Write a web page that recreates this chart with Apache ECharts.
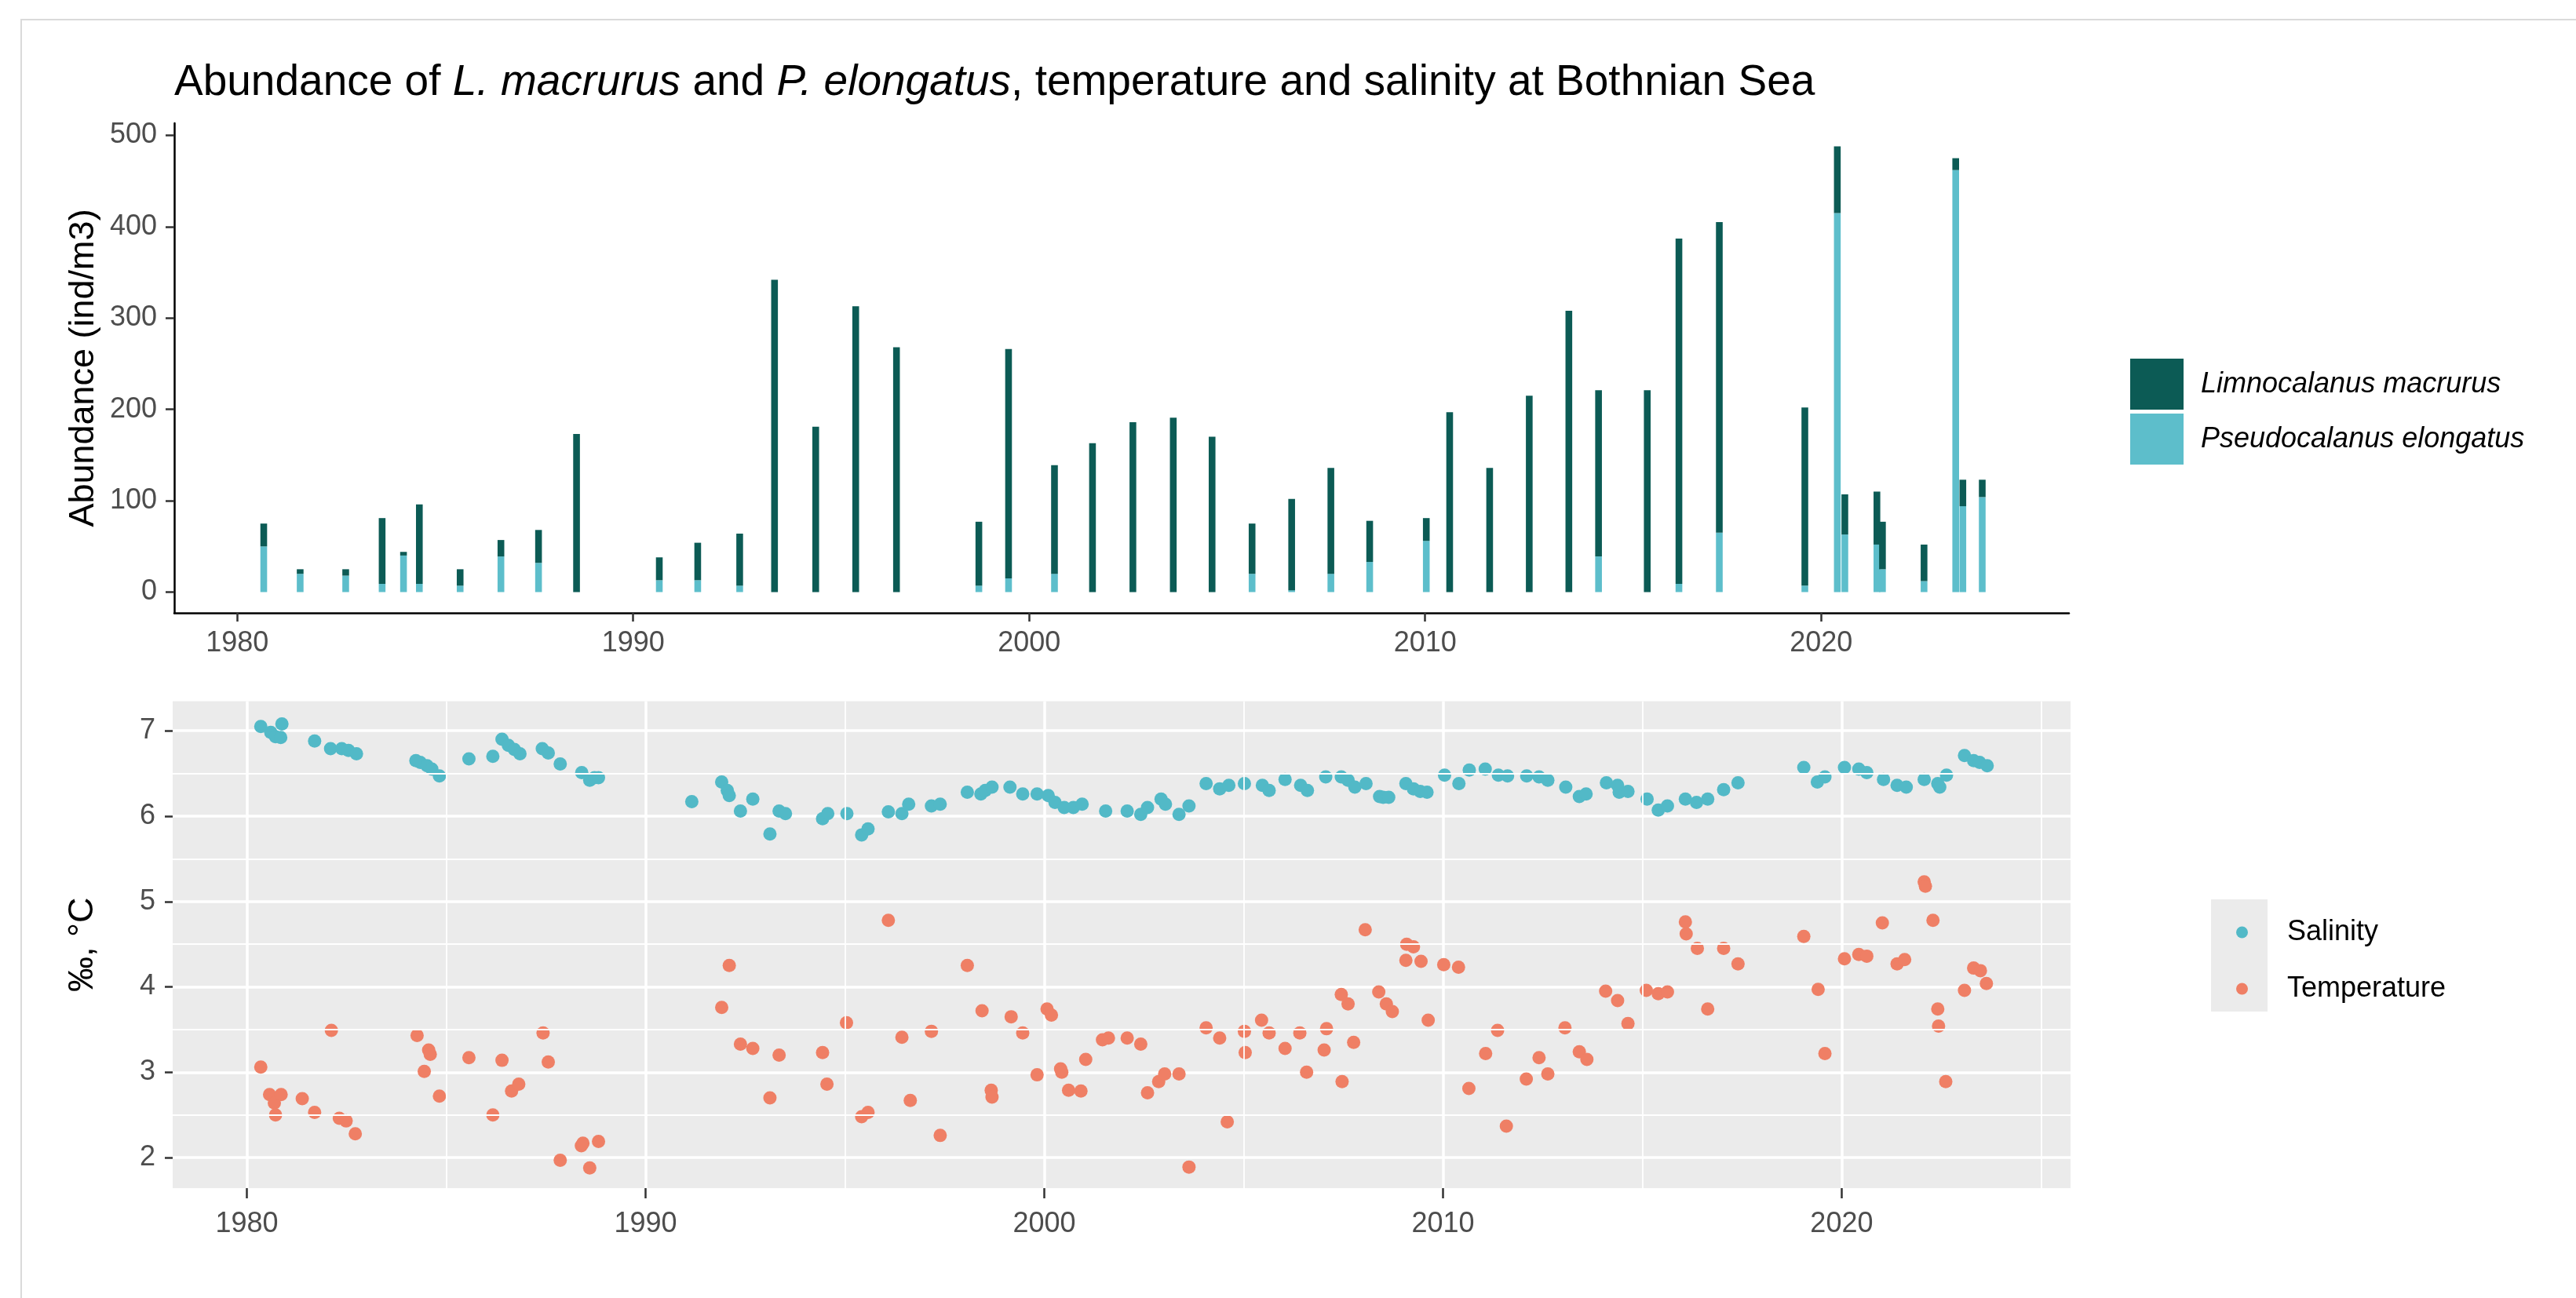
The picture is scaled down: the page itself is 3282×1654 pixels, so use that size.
<!DOCTYPE html>
<html><head><meta charset="utf-8">
<script src="https://cdn.jsdelivr.net/npm/echarts@6/dist/echarts.min.js"></script>
<style>html,body{margin:0;padding:0;background:#fff}#c{width:3282px;height:1654px}</style>
</head><body><div id="c"></div>
<script>
// ---------- DATA ----------
const barYears = [1980.67,1981.59,1982.74,1983.66,1984.2,1984.6,1985.63,1986.66,1987.61,1988.57,
  1990.66,1991.63,1992.69,1993.57,1994.61,1995.62,1996.65,1998.73,1999.48,2000.64,
  2001.6,2002.62,2003.64,2004.62,2005.63,2006.63,2007.62,2008.6,2010.03,2010.62,
  2011.63,2012.63,2013.63,2014.38,2015.61,2016.41,2017.43,2019.59,2020.41,2020.6,
  2021.41,2021.55,2022.6,2023.4,2023.58,2024.07];
const elongatus = [50,20,18,9,40,9,7,39,32,0,
  13,13,7,0,0,0,0,7,15,20,
  0,0,0,0,20,2,20,33,56,0,
  0,0,0,39,0,9,65,7,415,63,
  52,25,12,462,94,104];
const macrurus = [25,5,7,72,4,87,18,18,36,173,
  25,41,57,342,181,313,268,70,251,119,
  163,186,191,170,55,100,116,45,25,197,
  136,215,308,182,221,378,340,195,73,44,
  58,52,40,13,29,19];

const salinityYears = [1980.35,1980.6,1980.72,1980.85,1980.88,1981.7,1982.1,1982.38,1982.55,1982.75,
  1984.24,1984.35,1984.52,1984.64,1984.83,1985.57,1986.17,1986.4,1986.56,1986.71,1986.85,
  1987.41,1987.56,1987.86,1988.4,1988.6,1988.72,1988.82,1991.16,1991.91,1992.05,1992.1,
  1992.38,1992.69,1993.12,1993.35,1993.51,1994.44,1994.57,1995.05,1995.42,1995.58,1996.09,
  1996.43,1996.6,1997.17,1997.39,1998.07,1998.41,1998.52,1998.69,1999.14,1999.46,1999.82,
  2000.1,2000.27,2000.5,2000.73,2000.95,2001.54,2002.08,2002.42,2002.59,2002.93,2003.04,
  2003.38,2003.63,2004.06,2004.4,2004.63,2005.02,2005.47,2005.64,2006.04,2006.43,2006.6,
  2007.06,2007.45,2007.62,2007.79,2008.07,2008.41,2008.5,2008.64,2009.07,2009.26,2009.43,
  2009.6,2010.04,2010.4,2010.66,2011.06,2011.39,2011.62,2012.1,2012.41,2012.63,2013.08,
  2013.42,2013.59,2014.1,2014.38,2014.42,2014.64,2015.12,2015.4,2015.63,2016.08,2016.36,
  2016.64,2017.04,2017.4,2019.05,2019.39,2019.58,2020.07,2020.43,2020.63,2021.05,2021.39,
  2021.62,2022.07,2022.41,2022.46,2022.63,2023.08,2023.31,2023.46,2023.65];
const salinityValues = [7.05,6.98,6.93,6.92,7.08,6.88,6.79,6.79,6.77,6.73,
  6.65,6.63,6.59,6.55,6.47,6.67,6.70,6.90,6.83,6.78,6.73,
  6.79,6.74,6.61,6.51,6.42,6.45,6.45,6.17,6.40,6.30,6.24,
  6.06,6.20,5.79,6.06,6.03,5.97,6.03,6.03,5.78,5.85,6.05,
  6.03,6.14,6.12,6.14,6.28,6.26,6.30,6.34,6.34,6.26,6.26,
  6.24,6.16,6.10,6.10,6.14,6.06,6.06,6.02,6.10,6.20,6.14,
  6.02,6.12,6.38,6.32,6.36,6.38,6.36,6.30,6.43,6.36,6.30,
  6.46,6.46,6.42,6.34,6.38,6.23,6.22,6.22,6.38,6.32,6.29,
  6.28,6.48,6.38,6.54,6.55,6.48,6.47,6.47,6.46,6.42,6.34,
  6.23,6.26,6.39,6.36,6.28,6.29,6.20,6.07,6.12,6.20,6.16,
  6.20,6.31,6.39,6.57,6.40,6.46,6.57,6.55,6.51,6.43,6.36,
  6.34,6.43,6.38,6.34,6.48,6.71,6.65,6.63,6.59];

const temperatureYears = [1980.35,1980.57,1980.69,1980.72,1980.86,1981.39,1981.7,1982.12,1982.32,1982.49,1982.72,
  1984.27,1984.45,1984.56,1984.6,1984.83,1985.57,1986.17,1986.4,1986.64,1986.82,1987.43,1987.56,
  1987.86,1988.39,1988.43,1988.6,1988.82,1991.91,1992.1,1992.38,1992.69,1993.12,1993.35,1994.44,
  1994.55,1995.04,1995.42,1995.58,1996.09,1996.43,1996.64,1997.17,1997.39,1998.07,1998.44,1998.67,
  1998.69,1999.17,1999.46,1999.82,2000.07,2000.18,2000.41,2000.44,2000.61,2000.92,2001.04,2001.46,
  2001.61,2002.08,2002.42,2002.59,2002.87,2003.02,2003.38,2003.63,2004.06,2004.4,2004.59,2005.02,
  2005.04,2005.45,2005.64,2006.04,2006.41,2006.58,2007.02,2007.08,2007.45,2007.47,2007.62,2007.76,
  2008.05,2008.39,2008.58,2008.73,2009.07,2009.09,2009.26,2009.45,2009.63,2010.02,2010.39,2010.65,
  2011.07,2011.37,2011.59,2012.09,2012.41,2012.63,2013.06,2013.42,2013.61,2014.08,2014.38,2014.64,
  2015.1,2015.4,2015.63,2016.08,2016.1,2016.38,2016.64,2017.04,2017.4,2019.05,2019.41,2019.58,
  2020.07,2020.43,2020.63,2021.02,2021.39,2021.58,2022.07,2022.1,2022.29,2022.41,2022.43,2022.61,
  2023.08,2023.31,2023.48,2023.63];
const temperatureValues = [3.06,2.74,2.64,2.50,2.74,2.69,2.53,3.49,2.46,2.43,2.28,
  3.43,3.01,3.26,3.21,2.72,3.17,2.50,3.14,2.78,2.86,3.46,3.12,
  1.97,2.14,2.17,1.88,2.19,3.76,4.25,3.33,3.28,2.70,3.20,3.23,
  2.86,3.58,2.48,2.53,4.78,3.41,2.67,3.48,2.26,4.25,3.72,2.79,
  2.71,3.65,3.46,2.97,3.74,3.67,3.04,3.00,2.79,2.78,3.15,3.38,
  3.40,3.40,3.33,2.76,2.89,2.98,2.98,1.89,3.52,3.40,2.42,3.48,
  3.23,3.61,3.46,3.28,3.46,3.00,3.26,3.51,3.91,2.89,3.80,3.35,
  4.67,3.94,3.80,3.71,4.31,4.50,4.47,4.30,3.61,4.26,4.23,2.81,
  3.22,3.49,2.37,2.92,3.17,2.98,3.52,3.24,3.15,3.95,3.84,3.57,
  3.96,3.92,3.94,4.76,4.62,4.45,3.74,4.45,4.27,4.59,3.97,3.22,
  4.33,4.38,4.36,4.75,4.27,4.32,5.23,5.18,4.78,3.74,3.54,2.89,
  3.96,4.22,4.19,4.04];

const yearTicks = [1980, 1990, 2000, 2010, 2020];
const yearMinor = [1985, 1995, 2005, 2015, 2025];
const abundanceTicks = [0, 100, 200, 300, 400, 500];
const envTicks = [2, 3, 4, 5, 6, 7];
const envMinor = [2.5, 3.5, 4.5, 5.5, 6.5];

// ---------- STYLE ----------
const FONT = 'Liberation Sans, Arial, Helvetica, sans-serif';
const C_DARK = '#0C5B55', C_LIGHT = '#5DBECB';
const C_SAL = '#52B9C7', C_TEMP = '#EF7F65';
const BAR_W = 0.17; // bar width in years

const lightData = barYears.map((x, i) => [x, 0, elongatus[i]]);
const darkData = barYears.map((x, i) => [x, elongatus[i], elongatus[i] + macrurus[i]]);
const salData = salinityYears.map((x, i) => [x, salinityValues[i]]);
const tempData = temperatureYears.map((x, i) => [x, temperatureValues[i]]);

function barRender(params, api) {
  const x = api.value(0), y0 = api.value(1), y1 = api.value(2);
  if (y1 <= y0) return null;
  const p0 = api.coord([x, y0]), p1 = api.coord([x, y1]);
  const w = api.size([BAR_W, 0])[0];
  return { type: 'rect', shape: { x: p0[0] - w / 2, y: p1[1], width: w, height: p0[1] - p1[1] },
           style: { fill: api.visual('color') } };
}

const plain = v => String(v);
const axisLabelStyle = { fontFamily: FONT, fontSize: 36, color: '#4D4D4D', formatter: plain };

const chart = echarts.init(document.getElementById('c'), null, { renderer: 'canvas' });
chart.setOption({
  backgroundColor: '#fff',
  animation: false,
  title: {
    left: 222, top: 76, padding: 0,
    text: '{n|Abundance of }{i|L. macrurus}{n| and }{i|P. elongatus}{n|, temperature and salinity at Bothnian Sea}',
    textStyle: { fontWeight: 'normal', rich: {
      n: { fontFamily: FONT, fontSize: 55, fontWeight: 'normal', color: '#000', lineHeight: 60 },
      i: { fontFamily: FONT, fontSize: 55, fontWeight: 'normal', color: '#000', fontStyle: 'italic', lineHeight: 60 }
    } }
  },
  graphic: [
    { type: 'polyline', silent: true, shape: { points: [[27, 1654], [27, 25], [3282, 25]] },
      style: { stroke: '#DADADA', lineWidth: 2, fill: null } },
    { type: 'rect', silent: true, shape: { x: 2817, y: 1146, width: 72, height: 143 },
      style: { fill: '#EBEBEB' }, z: 0 }
  ],
  grid: [
    { left: 222, top: 157, width: 2414, height: 624, show: false },
    { left: 220, top: 893.5, width: 2418, height: 620.5, show: true, backgroundColor: '#EBEBEB', borderWidth: 0 }
  ],
  xAxis: [
    { type: 'value', gridIndex: 0, min: 1978.41, max: 2026.26,
      axisLine: { show: true, onZero: false, lineStyle: { color: '#000', width: 2.5 } },
      axisTick: { show: true, customValues: yearTicks, length: 11, lineStyle: { color: '#333', width: 2.5 } },
      axisLabel: Object.assign({ customValues: yearTicks, margin: 21 }, axisLabelStyle),
      splitLine: { show: false } },
    { type: 'value', gridIndex: 1, min: 1978.14, max: 2025.74,
      axisLine: { show: false },
      axisTick: { show: true, customValues: yearTicks, length: 13, lineStyle: { color: '#333', width: 2.5 } },
      axisLabel: Object.assign({ customValues: yearTicks, margin: 28 }, axisLabelStyle),
      splitLine: { show: true, lineStyle: { color: '#fff', width: 3.5 } } }
  ],
  yAxis: [
    { type: 'value', gridIndex: 0, min: -22.8, max: 513.3,
      name: 'Abundance (ind/m3)', nameLocation: 'middle', nameGap: 92, nameRotate: 90,
      nameTextStyle: { fontFamily: FONT, fontSize: 45, color: '#000' },
      axisLine: { show: true, onZero: false, lineStyle: { color: '#000', width: 2.5 } },
      axisTick: { show: true, customValues: abundanceTicks, length: 11, lineStyle: { color: '#333', width: 2.5 } },
      axisLabel: Object.assign({ customValues: abundanceTicks, margin: 22 }, axisLabelStyle),
      splitLine: { show: false } },
    { type: 'value', gridIndex: 1, min: 1.643, max: 7.346,
      name: '‰, °C', nameLocation: 'middle', nameGap: 92, nameRotate: 90,
      nameTextStyle: { fontFamily: FONT, fontSize: 45, color: '#000' },
      axisLine: { show: false },
      axisTick: { show: true, customValues: envTicks, length: 10, lineStyle: { color: '#333', width: 2.5 } },
      axisLabel: Object.assign({ customValues: envTicks, margin: 22 }, axisLabelStyle),
      splitLine: { show: true, lineStyle: { color: '#fff', width: 3.5 } } }
  ],
  legend: [
    { orient: 'vertical', left: 2714, top: 457, padding: 0, itemWidth: 68, itemHeight: 65, itemGap: 5,
      selectedMode: false, icon: 'rect',
      data: ['Limnocalanus macrurus', 'Pseudocalanus elongatus'],
      textStyle: { fontFamily: FONT, fontSize: 36, fontStyle: 'italic', color: '#000', padding: [0, 0, 0, 17] } },
    { orient: 'vertical', left: 2849, top: 1168, padding: 0, itemWidth: 15, itemHeight: 15, itemGap: 32,
      selectedMode: false, icon: 'circle',
      data: ['Salinity', 'Temperature'],
      textStyle: { fontFamily: FONT, fontSize: 36, color: '#000', lineHeight: 40, padding: [0, 0, 0, 45] } }
  ],
  series: [
    { name: 'Pseudocalanus elongatus', type: 'custom', xAxisIndex: 0, yAxisIndex: 0,
      renderItem: barRender, data: lightData, encode: { x: 0, y: [1, 2] },
      itemStyle: { color: C_LIGHT }, z: 2 },
    { name: 'Limnocalanus macrurus', type: 'custom', xAxisIndex: 0, yAxisIndex: 0,
      renderItem: barRender, data: darkData, encode: { x: 0, y: [1, 2] },
      itemStyle: { color: C_DARK }, z: 2 },
    { name: 'minor-grid', type: 'scatter', xAxisIndex: 1, yAxisIndex: 1, data: [], silent: true, z: 1,
      markLine: { silent: true, symbol: ['none', 'none'], label: { show: false }, animation: false,
        lineStyle: { color: '#fff', width: 1.8, type: 'solid' },
        data: envMinor.map(v => ({ yAxis: v })).concat(yearMinor.map(v => ({ xAxis: v }))) } },
    { name: 'Salinity', type: 'scatter', xAxisIndex: 1, yAxisIndex: 1, data: salData,
      symbol: 'circle', symbolSize: 17, itemStyle: { color: C_SAL, opacity: 1 }, z: 3 },
    { name: 'Temperature', type: 'scatter', xAxisIndex: 1, yAxisIndex: 1, data: tempData,
      symbol: 'circle', symbolSize: 17, itemStyle: { color: C_TEMP, opacity: 1 }, z: 3 }
  ]
});
</script>
</body></html>
